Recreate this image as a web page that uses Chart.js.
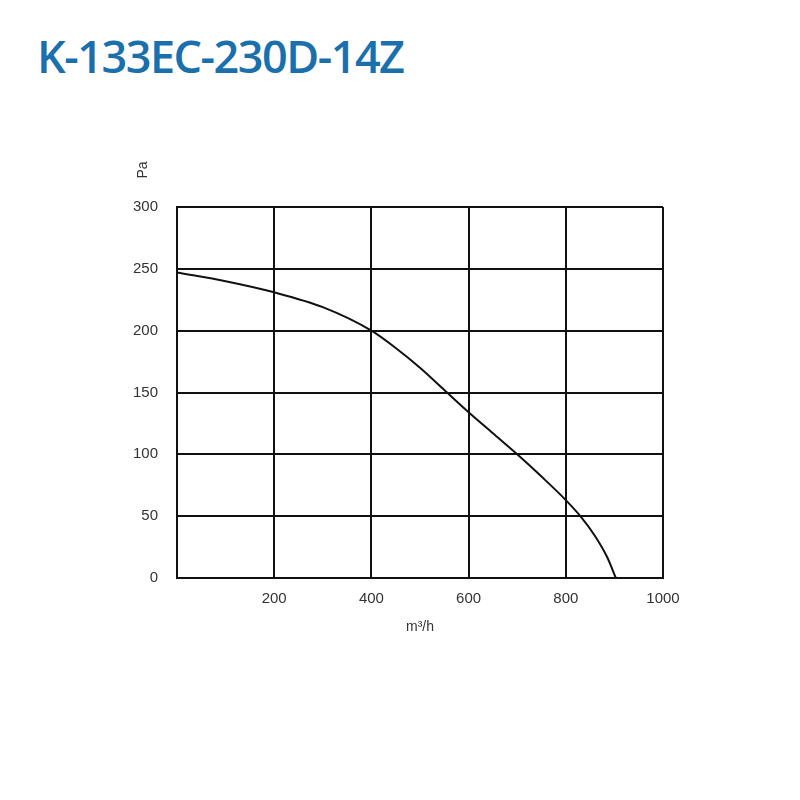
<!DOCTYPE html>
<html>
<head>
<meta charset="utf-8">
<script src="https://cdn.jsdelivr.net/npm/chart.js@4.4.1/dist/chart.umd.min.js"></script>
<style>
  html, body { margin: 0; padding: 0; background: #fff; }
  #wrap { position: relative; width: 800px; height: 800px; }
  #title {
    position: absolute; left: 37px; top: 25px;
    font-family: "Open Sans", sans-serif; font-weight: 600;
    font-size: 45px; color: #1a6fad; letter-spacing: -1.5px;
    white-space: nowrap;
  }
  canvas { position: absolute; left: 0; top: 0; }
</style>
</head>
<body>
<div id="wrap">
  <div id="title">K-133EC-230D-14Z</div>
  <canvas id="fanChart" width="800" height="800"></canvas>
</div>
<script>
// air flow (m³/h) and static pressure (Pa)
const flowValues = [0, 100, 200, 300, 400, 450, 500, 550, 600, 650, 700, 750, 800, 830, 860, 885, 903];
const pressureValues = [247, 240, 231, 219, 200, 186, 170, 152, 134, 117, 100, 82, 63, 50, 34, 17, 0];
const xTicks = [0, 200, 400, 600, 800, 1000];
const yTicks = [0, 50, 100, 150, 200, 250, 300];

const points = flowValues.map((x, i) => ({ x: x, y: pressureValues[i] }));

// "Pa" sits above the y axis, rotated
const paLabel = {
    id: 'paLabel',
    afterDraw(chart) {
        const ctx = chart.ctx;
        ctx.save();
        ctx.translate(143, 170);
        ctx.rotate(-Math.PI / 2);
        ctx.font = '14px "Liberation Sans", Arial, sans-serif';
        ctx.fillStyle = '#333';
        ctx.textAlign = 'center';
        ctx.textBaseline = 'middle';
        ctx.fillText('Pa', 0, 0);
        ctx.restore();
    }
};

new Chart(document.getElementById('fanChart').getContext('2d'), {
    type: 'line',
    data: {
        datasets: [{
            data: points,
            borderColor: '#111',
            borderWidth: 2,
            pointRadius: 0,
            fill: false,
            cubicInterpolationMode: 'monotone'
        }]
    },
    options: {
        responsive: false,
        animation: false,
        layout: { padding: { left: 117, right: 137, top: 207, bottom: 164 } },
        plugins: { legend: { display: false }, tooltip: { enabled: false } },
        scales: {
            x: {
                type: 'linear',
                min: 0, max: 1000,
                afterBuildTicks: s => { s.ticks = xTicks.map(v => ({ value: v })); },
                afterFit: s => { s.height = 58; },
                ticks: {
                    color: '#333',
                    padding: 12,
                    font: { size: 15, family: '"Liberation Sans", Arial, sans-serif' },
                    callback: v => v === 0 ? '' : v
                },
                grid: { color: '#111', lineWidth: 2, drawTicks: false },
                border: { color: '#111', width: 2 },
                title: {
                    display: true, text: 'm³/h', color: '#333',
                    font: { size: 14, family: '"Liberation Sans", Arial, sans-serif' },
                    padding: { top: 0, bottom: 0 }
                }
            },
            y: {
                min: 0, max: 300,
                afterBuildTicks: s => { s.ticks = yTicks.map(v => ({ value: v })); },
                afterFit: s => { s.width = 60; },
                ticks: {
                    color: '#333',
                    padding: 19,
                    font: { size: 15, family: '"Liberation Sans", Arial, sans-serif' }
                },
                grid: { color: '#111', lineWidth: 2, drawTicks: false },
                border: { color: '#111', width: 2 }
            }
        }
    },
    plugins: [paLabel]
});
</script>
</body>
</html>
